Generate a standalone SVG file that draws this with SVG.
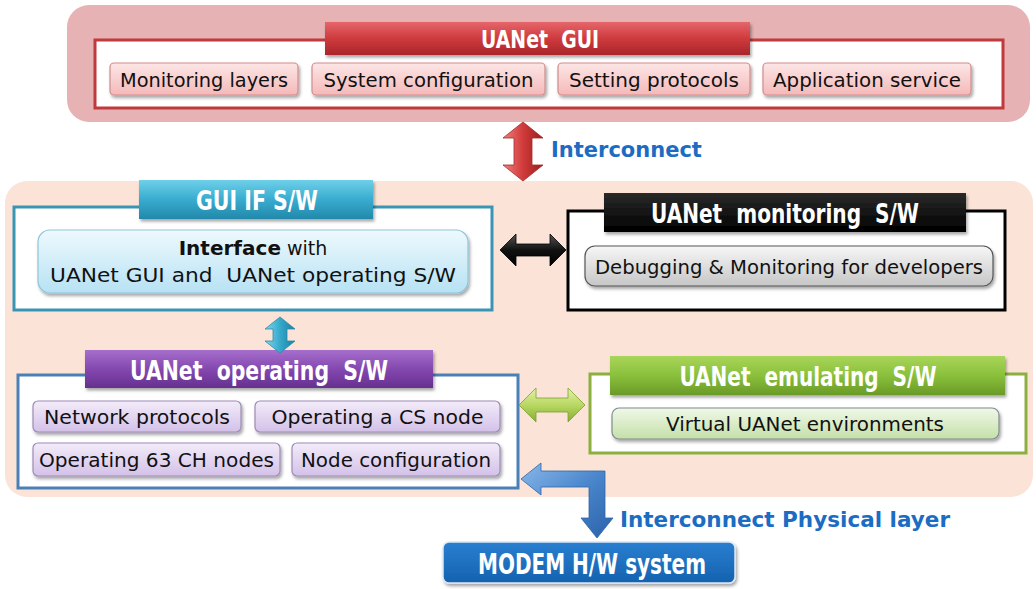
<svg xmlns="http://www.w3.org/2000/svg" width="1036" height="589" viewBox="0 0 1036 589">
  <defs>
    <filter id="shadow" x="-10%" y="-20%" width="120%" height="150%">
      <feDropShadow dx="1.5" dy="2.5" stdDeviation="1.8" flood-color="#000" flood-opacity="0.35"/>
    </filter>
    <linearGradient id="gRed" x1="0" y1="0" x2="0" y2="1">
      <stop offset="0" stop-color="#e5666a"/>
      <stop offset="0.5" stop-color="#cf3a3e"/>
      <stop offset="1" stop-color="#a9252a"/>
    </linearGradient>
    <linearGradient id="gTeal" x1="0" y1="0" x2="0" y2="1">
      <stop offset="0" stop-color="#6fd0e8"/>
      <stop offset="0.5" stop-color="#38acd0"/>
      <stop offset="1" stop-color="#2288ab"/>
    </linearGradient>
    <linearGradient id="gBlack" x1="0" y1="0" x2="0" y2="1">
      <stop offset="0" stop-color="#2a2a2a"/>
      <stop offset="1" stop-color="#000"/>
    </linearGradient>
    <linearGradient id="gPurple" x1="0" y1="0" x2="0" y2="1">
      <stop offset="0" stop-color="#a66fcc"/>
      <stop offset="0.5" stop-color="#8448b0"/>
      <stop offset="1" stop-color="#66308f"/>
    </linearGradient>
    <linearGradient id="gGreen" x1="0" y1="0" x2="0" y2="1">
      <stop offset="0" stop-color="#a9d55a"/>
      <stop offset="0.5" stop-color="#8ac03c"/>
      <stop offset="1" stop-color="#6a9a28"/>
    </linearGradient>
    <linearGradient id="gModem" x1="0" y1="0" x2="0" y2="1">
      <stop offset="0" stop-color="#2a7fd0"/>
      <stop offset="1" stop-color="#1462b0"/>
    </linearGradient>
    <linearGradient id="pPink" x1="0" y1="0" x2="0" y2="1">
      <stop offset="0" stop-color="#fde6e6"/>
      <stop offset="1" stop-color="#f4b9b9"/>
    </linearGradient>
    <linearGradient id="pBlue" x1="0" y1="0" x2="0" y2="1">
      <stop offset="0" stop-color="#eef9fd"/>
      <stop offset="1" stop-color="#b7e2f4"/>
    </linearGradient>
    <linearGradient id="pGray" x1="0" y1="0" x2="0" y2="1">
      <stop offset="0" stop-color="#f7f7f7"/>
      <stop offset="1" stop-color="#c6c6c6"/>
    </linearGradient>
    <linearGradient id="pLav" x1="0" y1="0" x2="0" y2="1">
      <stop offset="0" stop-color="#f3ecfa"/>
      <stop offset="1" stop-color="#d3c1e8"/>
    </linearGradient>
    <linearGradient id="pGreen" x1="0" y1="0" x2="0" y2="1">
      <stop offset="0" stop-color="#f0f8e8"/>
      <stop offset="1" stop-color="#c4e0a8"/>
    </linearGradient>
    <linearGradient id="aRed" x1="0" y1="0" x2="1" y2="0">
      <stop offset="0" stop-color="#f08080"/>
      <stop offset="0.5" stop-color="#d03a3a"/>
      <stop offset="1" stop-color="#9a1e1e"/>
    </linearGradient>
    <linearGradient id="aBlack" x1="0" y1="0" x2="0" y2="1">
      <stop offset="0" stop-color="#555"/>
      <stop offset="0.5" stop-color="#111"/>
      <stop offset="1" stop-color="#000"/>
    </linearGradient>
    <linearGradient id="aTeal" x1="0" y1="0" x2="1" y2="0">
      <stop offset="0" stop-color="#7fd8ee"/>
      <stop offset="0.5" stop-color="#35a9cc"/>
      <stop offset="1" stop-color="#1d7f9e"/>
    </linearGradient>
    <linearGradient id="aGreen" x1="0" y1="0" x2="0" y2="1">
      <stop offset="0" stop-color="#e4f2a8"/>
      <stop offset="0.5" stop-color="#b8d862"/>
      <stop offset="1" stop-color="#86ad34"/>
    </linearGradient>
    <linearGradient id="aBlue" x1="0" y1="0" x2="1" y2="1">
      <stop offset="0" stop-color="#8ab8ea"/>
      <stop offset="0.5" stop-color="#4a86cc"/>
      <stop offset="1" stop-color="#2a62aa"/>
    </linearGradient>
  </defs>
  <style>
    .title { font-family: "DejaVu Sans Condensed", "Liberation Sans Narrow", "Liberation Sans", sans-serif; font-weight: bold; fill: #fff; text-anchor: middle; }
    .body { font-family: "DejaVu Sans", "Liberation Sans", sans-serif; font-size: 20px; fill: #111; text-anchor: middle; }
    .label { font-family: "DejaVu Sans", "Liberation Sans", sans-serif; font-weight: bold; font-size: 21px; fill: #1b6cc2; }
    .bar { filter: url(#shadow); }
    .pill { filter: url(#shadow); stroke-width: 1.2; }
  </style>

  <!-- background panels -->
  <rect x="67" y="5" width="963" height="117" rx="22" fill="#e6b2b3"/>
  <rect x="5" y="181" width="1028" height="316" rx="22" fill="#fbe4d7"/>

  <!-- GUI layer -->
  <g id="uanet-gui">
    <rect x="95" y="40" width="908" height="68" fill="#fff" stroke="#c0393b" stroke-width="3"/>
    <rect class="bar" x="325" y="22" width="425" height="33" fill="url(#gRed)"/>
    <text class="title" x="540" y="48" font-size="25" textLength="118" lengthAdjust="spacingAndGlyphs">UANet&#160;&#160;GUI</text>
    <rect class="pill" x="110" y="63" width="188" height="32" rx="4" fill="url(#pPink)" stroke="#d38c8c"/>
    <text class="body" x="204" y="87" font-size="21" textLength="168" lengthAdjust="spacingAndGlyphs">Monitoring layers</text>
    <rect class="pill" x="312" y="63" width="233" height="32" rx="4" fill="url(#pPink)" stroke="#d38c8c"/>
    <text class="body" x="428.5" y="87" font-size="21" textLength="210" lengthAdjust="spacingAndGlyphs">System configuration</text>
    <rect class="pill" x="558" y="63" width="192" height="32" rx="4" fill="url(#pPink)" stroke="#d38c8c"/>
    <text class="body" x="654" y="87" font-size="21" textLength="170" lengthAdjust="spacingAndGlyphs">Setting protocols</text>
    <rect class="pill" x="763" y="63" width="208" height="32" rx="4" fill="url(#pPink)" stroke="#d38c8c"/>
    <text class="body" x="867" y="87" font-size="21" textLength="188" lengthAdjust="spacingAndGlyphs">Application service</text>
  </g>

  <!-- GUI interface software -->
  <g id="gui-if-sw">
    <rect x="14" y="207" width="478" height="103" fill="#fff" stroke="#3a95b5" stroke-width="3"/>
    <rect class="bar" x="139" y="180" width="234" height="39" fill="url(#gTeal)"/>
    <text class="title" x="257" y="210" font-size="26" textLength="122" lengthAdjust="spacingAndGlyphs">GUI IF S/W</text>
    <rect class="pill" x="38" y="230" width="430" height="63" rx="12" fill="url(#pBlue)" stroke="#8fc6d8"/>
    <text class="body" x="253" y="255"><tspan font-weight="bold">Interface</tspan><tspan font-size="19"> with</tspan></text>
    <text class="body" x="253" y="282" font-size="21" textLength="406" lengthAdjust="spacingAndGlyphs">UANet GUI and&#160; UANet operating S/W</text>
  </g>

  <!-- monitoring software -->
  <g id="uanet-monitoring-sw">
    <rect x="568" y="211" width="437" height="99" fill="#fff" stroke="#000" stroke-width="3"/>
    <rect class="bar" x="604" y="193" width="362" height="39" fill="url(#gBlack)"/>
    <text class="title" x="785" y="223" font-size="27" textLength="268" lengthAdjust="spacingAndGlyphs">UANet&#160;&#160;monitoring&#160;&#160;S/W</text>
    <rect class="pill" x="585" y="246" width="408" height="40" rx="10" fill="url(#pGray)" stroke="#555"/>
    <text class="body" x="789" y="274" font-size="21" textLength="388" lengthAdjust="spacingAndGlyphs">Debugging &amp; Monitoring for developers</text>
  </g>

  <!-- operating software -->
  <g id="uanet-operating-sw">
    <rect x="18" y="375" width="500" height="113" fill="#fff" stroke="#4a80b8" stroke-width="3"/>
    <rect class="bar" x="85" y="350" width="348" height="38" fill="url(#gPurple)"/>
    <text class="title" x="259" y="380" font-size="27" textLength="258" lengthAdjust="spacingAndGlyphs">UANet&#160;&#160;operating&#160;&#160;S/W</text>
    <rect class="pill" x="33" y="401" width="208" height="31" rx="5" fill="url(#pLav)" stroke="#9d8cb4"/>
    <text class="body" x="137" y="424" font-size="21" textLength="186" lengthAdjust="spacingAndGlyphs">Network protocols</text>
    <rect class="pill" x="255" y="401" width="245" height="31" rx="5" fill="url(#pLav)" stroke="#9d8cb4"/>
    <text class="body" x="377.5" y="424" font-size="21" textLength="212" lengthAdjust="spacingAndGlyphs">Operating a CS node</text>
    <rect class="pill" x="33" y="443" width="247" height="33" rx="5" fill="url(#pLav)" stroke="#9d8cb4"/>
    <text class="body" x="156.5" y="467" font-size="21" textLength="235" lengthAdjust="spacingAndGlyphs">Operating 63 CH nodes</text>
    <rect class="pill" x="292" y="443" width="208" height="33" rx="5" fill="url(#pLav)" stroke="#9d8cb4"/>
    <text class="body" x="396" y="467" font-size="21" textLength="190" lengthAdjust="spacingAndGlyphs">Node configuration</text>
  </g>

  <!-- emulating software -->
  <g id="uanet-emulating-sw">
    <rect x="590" y="374" width="436" height="79" fill="#fff" stroke="#8cb040" stroke-width="3"/>
    <rect class="bar" x="610" y="356" width="395" height="39" fill="url(#gGreen)"/>
    <text class="title" x="808" y="386" font-size="27" textLength="257" lengthAdjust="spacingAndGlyphs">UANet&#160;&#160;emulating&#160;&#160;S/W</text>
    <rect class="pill" x="612" y="408" width="387" height="31" rx="7" fill="url(#pGreen)" stroke="#7f8c8f"/>
    <text class="body" x="805" y="431" font-size="21" textLength="278" lengthAdjust="spacingAndGlyphs">Virtual UANet environments</text>
  </g>

  <!-- modem hardware -->
  <g id="modem-hw">
    <rect class="bar" x="443" y="542" width="292" height="41" rx="6" fill="url(#gModem)" stroke="#dbe8f5" stroke-width="1.5"/>
    <text class="title" x="592" y="574" font-size="28" textLength="228" lengthAdjust="spacingAndGlyphs">MODEM&#160;H/W&#160;system</text>
  </g>

  <!-- connectors -->
  <g id="connectors">
    <path d="M523,122 L543,138 L532,138 L532,165 L543,165 L523,181 L503,165 L514,165 L514,138 L503,138 Z" fill="url(#aRed)" stroke="#a82a2a" stroke-width="0.8"/>
    <text class="label" x="551" y="157">Interconnect</text>
    <path d="M500,250 L516,234 L516,244 L550,244 L550,234 L566,250 L550,266 L550,256 L516,256 L516,266 Z" fill="url(#aBlack)" stroke="#000" stroke-width="0.8"/>
    <path d="M280,317 L295,329 L287,329 L287,341 L295,341 L280,353 L265,341 L273,341 L273,329 L265,329 Z" fill="url(#aTeal)" stroke="#2a8aa8" stroke-width="0.8"/>
    <path d="M519,405 L536,388 L536,398 L568,398 L568,388 L585,405 L568,422 L568,412 L536,412 L536,422 Z" fill="url(#aGreen)" stroke="#7ea030" stroke-width="0.8"/>
    <path d="M521,479 L541,463 L541,471 L605,471 L605,518 L613,518 L597,538 L581,518 L589,518 L589,487 L541,487 L541,495 Z" fill="url(#aBlue)" stroke="#2d64a8" stroke-width="0.8"/>
    <text class="label" x="620" y="527" textLength="330" lengthAdjust="spacingAndGlyphs">Interconnect Physical layer</text>
  </g>
</svg>
